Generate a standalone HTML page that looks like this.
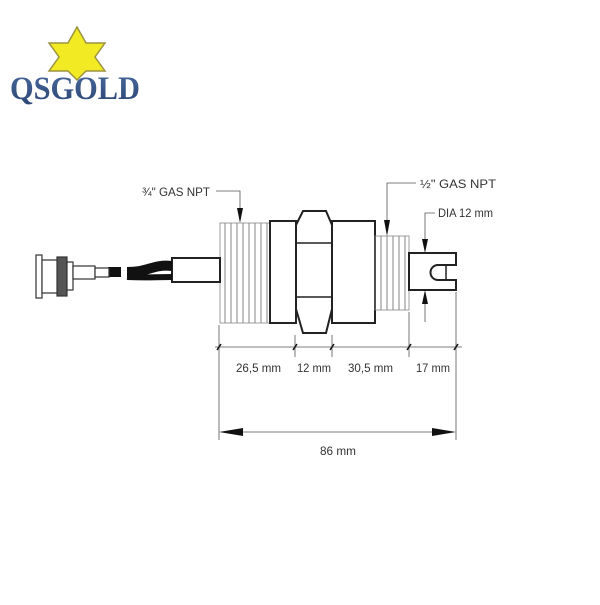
<!DOCTYPE html>
<html><head><style>
body{margin:0;background:#fff;width:600px;height:600px;overflow:hidden}
text{font-family:"Liberation Sans",sans-serif;fill:#333}
</style></head><body>
<svg width="600" height="600" viewBox="0 0 600 600">
<defs>
<pattern id="th" width="6" height="100" patternUnits="userSpaceOnUse"><line x1="3" y1="0" x2="3" y2="100" stroke="#777" stroke-width="0.9"/></pattern>
<linearGradient id="lg" x1="0" y1="0" x2="0" y2="1"><stop offset="0" stop-color="#4a6a9c"/><stop offset="1" stop-color="#2a4474"/></linearGradient>
</defs>
<!-- logo -->
<polygon points="77,27 86,43 105,43 95,57 105,71 86,71 77,80 68,71 49,71 59,57 49,43 68,43" fill="#f2ea22" stroke="#9a9440" stroke-width="1.5"/>
<text x="10" y="99" font-size="33" font-weight="bold" style="fill:url(#lg);font-family:'Liberation Serif',serif" textLength="130" lengthAdjust="spacingAndGlyphs">QSGOLD</text>
<g stroke="#222" fill="none" stroke-width="2">
<rect x="220" y="223" width="50" height="100" fill="url(#th)" stroke="#888" stroke-width="0.8"/>
<rect x="270" y="221" width="26" height="102" fill="#fff"/>
<polygon points="303,211 326,211 332,225 332,309 326,333 303,333 296,309 296,225" fill="#fff"/>
<line x1="297" y1="243" x2="331" y2="243" stroke-width="1.5"/>
<line x1="297" y1="297" x2="331" y2="297" stroke-width="1.5"/>
<rect x="332" y="221" width="43" height="102" fill="#fff"/>
<rect x="375" y="236" width="34" height="74" fill="url(#th)" stroke="#888" stroke-width="0.8"/>
<path d="M409 253 H456 V265 H438 A7 7 0 0 0 438 280 H456 V290 H409 Z" fill="#fff"/>
<line x1="446" y1="265" x2="446" y2="280" stroke-width="1.5"/>
<rect x="172" y="258" width="48" height="24" fill="#fff"/>
</g>
<!-- cable -->
<path d="M108 272 H121 M127 272 C150 272 152 264 172 266" stroke="#111" stroke-width="10" fill="none"/>
<path d="M127 277 C150 278 152 277 172 277" stroke="#111" stroke-width="6" fill="none"/>
<!-- BNC -->
<g stroke="#333" fill="#fff" stroke-width="1.2">
<rect x="36" y="255" width="6" height="43"/>
<rect x="42" y="260" width="18" height="33"/>
<rect x="57" y="257" width="10" height="39" fill="#555"/>
<rect x="67" y="262" width="6" height="28"/>
<rect x="73" y="266" width="22" height="13"/>
<rect x="95" y="268" width="14" height="9"/>
</g>
<g stroke="#555" stroke-width="0.8" fill="none">
<polyline points="216,191 240,191 240,210"/>
<polyline points="416,183 387,183 387,222"/>
<polyline points="435,213 425,213 425,240"/>
<line x1="425" y1="302" x2="425" y2="322"/>
<line x1="219" y1="325" x2="219" y2="440"/>
<line x1="456" y1="292" x2="456" y2="440"/>
<line x1="295" y1="335" x2="295" y2="357"/>
<line x1="332" y1="335" x2="332" y2="357"/>
<line x1="409" y1="312" x2="409" y2="357"/>
<line x1="215" y1="347" x2="462" y2="347"/>
<line x1="225" y1="432" x2="450" y2="432"/>
</g>
<g fill="#111">
<polygon points="237,208 243,208 240,223"/>
<polygon points="384,220 390,220 387,236"/>
<polygon points="422,239 428,239 425,253"/>
<polygon points="422,304 428,304 425,290"/>
<polygon points="219,432 243,428 243,436"/>
<polygon points="456,432 432,428 432,436"/>
</g>
<g stroke="#111" stroke-width="1.5">
<line x1="217" y1="350" x2="221" y2="344"/><line x1="293" y1="350" x2="297" y2="344"/><line x1="330" y1="350" x2="334" y2="344"/><line x1="407" y1="350" x2="411" y2="344"/><line x1="454" y1="350" x2="458" y2="344"/>
</g>
<g font-size="12">
<text x="142" y="196" textLength="68" lengthAdjust="spacingAndGlyphs">¾" GAS NPT</text>
<text x="420" y="188" textLength="76" lengthAdjust="spacingAndGlyphs">½" GAS NPT</text>
<text x="438" y="217" textLength="55" lengthAdjust="spacingAndGlyphs">DIA 12 mm</text>
<text x="236" y="372" textLength="45" lengthAdjust="spacingAndGlyphs">26,5 mm</text>
<text x="297" y="372" textLength="34" lengthAdjust="spacingAndGlyphs">12 mm</text>
<text x="348" y="372" textLength="45" lengthAdjust="spacingAndGlyphs">30,5 mm</text>
<text x="416" y="372" textLength="34" lengthAdjust="spacingAndGlyphs">17 mm</text>
<text x="320" y="455" textLength="36" lengthAdjust="spacingAndGlyphs">86 mm</text>
</g>
</svg>
</body></html>
